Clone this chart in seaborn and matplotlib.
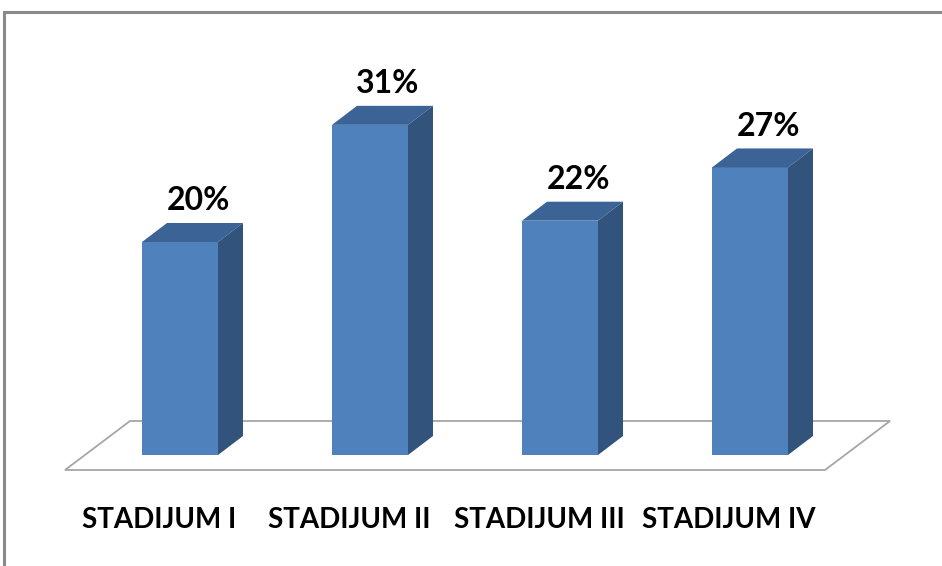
import matplotlib
matplotlib.use('Agg')
import matplotlib.pyplot as plt
import seaborn as sns
import pandas as pd
from matplotlib.patches import Polygon, Rectangle
from matplotlib.transforms import IdentityTransform

categories = ['STADIJUM I', 'STADIJUM II', 'STADIJUM III', 'STADIJUM IV']
values = [20, 31, 22, 27]
value_labels = ['20%', '31%', '22%', '27%']

sns.set_theme(style='white')
plt.rcParams['font.family'] = ['Lato', 'DejaVu Sans']

W, H = 942, 566
fig = plt.figure(figsize=(W / 100, H / 100), dpi=100)
fig.patch.set_facecolor('white')
ax = fig.add_axes([85 / W, 111 / H, 760 / W, 426 / H])
ax.patch.set_alpha(0)
df = pd.DataFrame({'cat': categories, 'val': values})
sns.barplot(data=df, x='cat', y='val', width=0.4, color='#4F81BD',
            saturation=1, ax=ax, zorder=3, edgecolor='none', linewidth=0)
ax.set_xlim(-0.5, 3.5)
ax.set_ylim(0, 40)
ax.axis('off')

SIDE = '#32547C'
TOP = '#3B6396'
DX, DY = 25, 19
ident = IdentityTransform()

def disp(x, y):
    return ax.transData.transform((x, y))

# floor
fl = disp(-0.5, 0)
fr = disp(3.5, 0)
floor = [(fl[0] - 20, fl[1] - 15), (fr[0] - 20, fr[1] - 15),
         (fr[0] + 45, fr[1] + 34), (fl[0] + 45, fl[1] + 34)]
floor_patch = Polygon(floor, closed=True, facecolor='white', edgecolor='#a6a6a6',
                      lw=1.3, transform=ident, zorder=1)
ax.add_artist(floor_patch)
floor_patch.set_clip_on(False)

bars = [p for p in ax.containers[0]]

# 3D faces
for p in bars:
    x0 = p.get_x()
    x1 = x0 + p.get_width()
    h = p.get_height()
    a = disp(x0, h)
    b = disp(x1, h)
    c = disp(x1, 0)
    top = [tuple(a), tuple(b), (b[0] + DX, b[1] + DY), (a[0] + DX, a[1] + DY)]
    side = [tuple(c), (c[0] + DX, c[1] + DY), (b[0] + DX, b[1] + DY), tuple(b)]
    for poly, col in ((top, TOP), (side, SIDE)):
        pp = Polygon(poly, closed=True, facecolor=col, edgecolor='none',
                     transform=ident, zorder=4)
        ax.add_artist(pp)
        pp.set_clip_on(False)

# value labels
for p, lab in zip(bars, value_labels):
    cx = p.get_x() + p.get_width() / 2
    ax.annotate(lab, xy=(cx, p.get_height()), xytext=(18, 41),
                textcoords='offset pixels', ha='center', va='center',
                fontsize=23, fontweight='bold', color='black', zorder=6,
                annotation_clip=False)

# category labels
for i, cat in enumerate(categories):
    ax.annotate(cat, xy=(i, 0), xytext=(-21, -65), textcoords='offset pixels',
                ha='center', va='center', fontsize=20, fontweight='bold',
                color='black', annotation_clip=False)

# outer frame
fig.add_artist(Rectangle((4 / W, -0.2), 2, (H - 12) / H + 0.2, transform=fig.transFigure,
                         fill=False, edgecolor='#8a8a8a', lw=2.2, zorder=10))

fig.savefig('out.png', dpi=100)
